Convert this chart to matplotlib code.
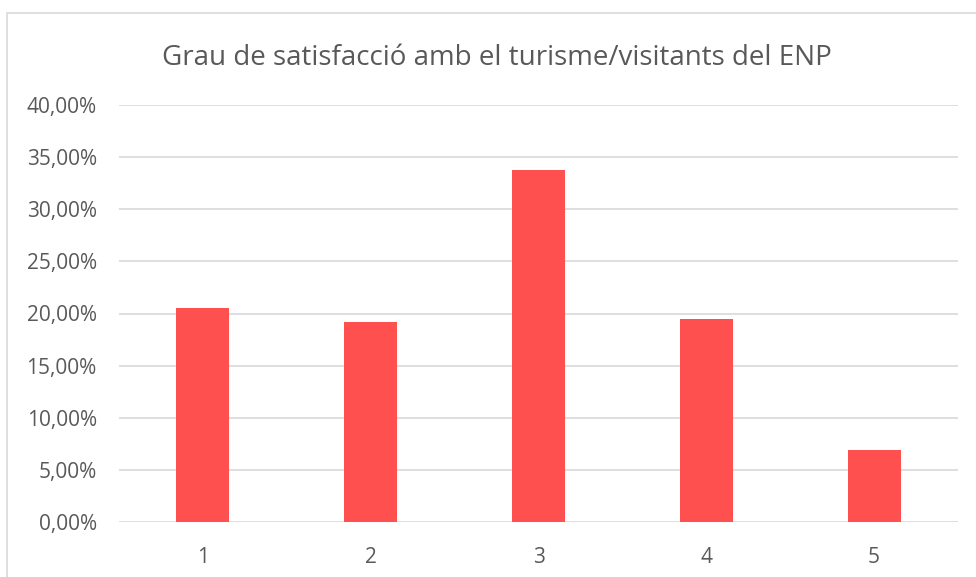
import matplotlib
matplotlib.use('Agg')
import matplotlib.pyplot as plt
from matplotlib.patches import Rectangle
from matplotlib.ticker import FuncFormatter

categories = ['1', '2', '3', '4', '5']
values = [0.2055, 0.1920, 0.3375, 0.1950, 0.0695]

plt.rcParams['font.family'] = ['Open Sans', 'DejaVu Sans']

fig = plt.figure(figsize=(9.76, 5.77), dpi=100)
ax = fig.add_axes([119/976, 1-522/577, 839/976, 417/577])

# chart border (cut off at right/bottom like the screenshot)
fig.patches.append(Rectangle((7/976, -0.1), 1.2, 1-13/577+0.1, transform=fig.transFigure,
                             fill=False, edgecolor='#D9D9D9', linewidth=1.2))

x = list(range(1, len(categories)+1))
ax.bar(x, values, width=0.315, color='#FF5050', zorder=3)

ax.set_xlim(0.5, 5.5)
ax.set_ylim(0, 0.4)
ax.set_yticks([i*0.05 for i in range(9)])
ax.yaxis.set_major_formatter(FuncFormatter(lambda v, p: f'{v*100:.2f}%'.replace('.', ',')))
ax.set_xticks(x)
ax.set_xticklabels(categories)
ax.grid(axis='y', color='#D9D9D9', linewidth=1.2, zorder=0)
for s in ax.spines.values():
    s.set_visible(False)
ax.tick_params(length=0, colors='#595959', labelsize=15)
ax.tick_params(axis='y', pad=16)
ax.tick_params(axis='x', pad=18)

fig.text(497/976, 1-58/577, 'Grau de satisfacció amb el turisme/visitants del ENP',
         ha='center', va='center', fontsize=20, color='#595959')

fig.savefig('out.png', dpi=100)
